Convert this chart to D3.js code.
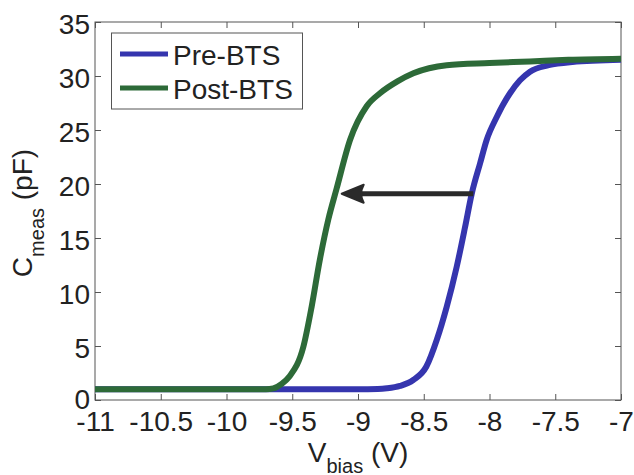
<!DOCTYPE html>
<html>
<head>
<meta charset="utf-8">
<script src="https://cdn.jsdelivr.net/npm/d3@7"></script>
<style>
  body { margin: 0; background: #fff; }
  svg { display: block; font-family: "Liberation Sans", Arial, sans-serif; }
</style>
</head>
<body>
<svg id="chart" width="634" height="475"></svg>
<script>
// ---- data ----
const preV  = [-11, -10, -9.0, -8.85, -8.78, -8.68, -8.58, -8.48, -8.40, -8.326, -8.25, -8.186, -8.135, -8.072, -8.021, -7.945, -7.844, -7.768, -7.692, -7.55, -7.37, -7];
const preC  = [1.0, 1.0, 1.0, 1.02, 1.08, 1.3, 1.85, 3.1, 5.6, 8.6, 12.3, 16.0, 19.1, 21.9, 24.1, 26.2, 28.4, 29.6, 30.4, 31.0, 31.3, 31.5];
const postV = [-11, -10.5, -9.7, -9.644, -9.58, -9.52, -9.416, -9.353, -9.29, -9.226, -9.162, -9.06, -8.934, -8.833, -8.70, -8.579, -8.326, -8.0, -7.692, -7.4, -7];
const postC = [1.0, 1.0, 1.0, 1.08, 1.5, 2.2, 4.9, 8.6, 13.0, 16.7, 19.6, 24.1, 27.2, 28.4, 29.5, 30.25, 31.0, 31.2, 31.35, 31.5, 31.6];
const xTicks = [-11, -10.5, -10, -9.5, -9, -8.5, -8, -7.5, -7];
const yTicks = [0, 5, 10, 15, 20, 25, 30, 35];
const seriesNames = ["Pre-BTS", "Post-BTS"];
const arrowFrom = [-8.123, 19.1];
const arrowTo = [-9.124, 19.1];

// ---- layout ----
const L = 95, R = 621, T = 22, B = 400;
const svg = d3.select("#chart");
const x = d3.scaleLinear().domain([-11, -7]).range([L, R]);
const y = d3.scaleLinear().domain([0, 35]).range([B, T]);
const frame = "#555";
const fontSize = 28;

// axes
const ax = svg.append("g").attr("transform", `translate(0,${B})`)
  .call(d3.axisBottom(x).tickValues(xTicks).tickSizeInner(-6).tickSizeOuter(0).tickPadding(12).tickFormat(d => String(d)));
const axTop = svg.append("g").attr("transform", `translate(0,${T})`)
  .call(d3.axisTop(x).tickValues(xTicks).tickSizeInner(-6).tickSizeOuter(0).tickFormat(""));
const ay = svg.append("g").attr("transform", `translate(${L},0)`)
  .call(d3.axisLeft(y).tickValues(yTicks).tickSizeInner(-6).tickSizeOuter(0).tickPadding(12));
const ayR = svg.append("g").attr("transform", `translate(${R},0)`)
  .call(d3.axisRight(y).tickValues(yTicks).tickSizeInner(-6).tickSizeOuter(0).tickFormat(""));
[ax, axTop, ay, ayR].forEach(g => {
  g.select(".domain").remove();
  g.selectAll(".tick line").attr("stroke", frame).attr("stroke-width", 1);
  g.selectAll("text").attr("font-size", fontSize).attr("fill", "#222")
    .attr("font-family", '"Liberation Sans", Arial, sans-serif');
});
ax.selectAll("text").attr("dy", "0.71em").attr("y", 11);
ay.selectAll("text").attr("dy", "0.42em").attr("x", -5);
ay.selectAll(".tick").filter(d => d === 0).select("text").attr("dy", "0.3em");

// frame
svg.append("rect").attr("x", L).attr("y", T).attr("width", R - L).attr("height", B - T)
  .attr("fill", "none").attr("stroke", frame).attr("stroke-width", 1);

// lines
const line = d3.line().x(d => x(d[0])).y(d => y(d[1])).curve(d3.curveMonotoneX);
const preData = preV.map((v, i) => [v, preC[i]]);
const postData = postV.map((v, i) => [v, postC[i]]);
const colors = ["#3535ae", "#2d6a38"];

svg.append("path").datum(preData).attr("d", line)
  .attr("fill", "none").attr("stroke", colors[0]).attr("stroke-width", 6).attr("stroke-linejoin", "round");
svg.append("path").datum(postData).attr("d", line)
  .attr("fill", "none").attr("stroke", colors[1]).attr("stroke-width", 6).attr("stroke-linejoin", "round");

// arrow
const ax0 = x(arrowFrom[0]), ax1 = x(arrowTo[0]), ayy = y(arrowFrom[1]);
svg.append("line").attr("x1", ax0).attr("y1", ayy).attr("x2", ax1 + 18).attr("y2", ayy)
  .attr("stroke", "#2a2a2a").attr("stroke-width", 5);
svg.append("path")
  .attr("d", `M${ax1},${ayy} L${ax1 + 22},${ayy - 9} Q${ax1 + 17},${ayy} ${ax1 + 22},${ayy + 9} Z`)
  .attr("fill", "#2a2a2a").attr("stroke", "#2a2a2a").attr("stroke-width", 2).attr("stroke-linejoin", "round");

// legend
const lg = svg.append("g");
lg.append("rect").attr("x", 111.5).attr("y", 33).attr("width", 191).attr("height", 76)
  .attr("fill", "#fff").attr("stroke", frame).attr("stroke-width", 1);
seriesNames.forEach((name, i) => {
  const yy = 54 + i * 34;
  lg.append("line").attr("x1", 120).attr("x2", 168).attr("y1", yy).attr("y2", yy)
    .attr("stroke", colors[i]).attr("stroke-width", 5);
  lg.append("text").attr("x", 173).attr("y", yy + 10.5).attr("font-size", fontSize)
    .attr("fill", "#222").text(name);
});

// x title
const xt = svg.append("text").attr("x", (L + R) / 2).attr("y", 461.5)
  .attr("text-anchor", "middle").attr("font-size", fontSize).attr("fill", "#222");
xt.append("tspan").text("V");
xt.append("tspan").attr("font-size", 20).attr("dy", 11).text("bias");
xt.append("tspan").attr("dy", -11).text(" (V)");

// y title
const yt = svg.append("text").attr("transform", `translate(32,213) rotate(-90)`)
  .attr("text-anchor", "middle").attr("font-size", fontSize).attr("fill", "#222");
yt.append("tspan").text("C");
yt.append("tspan").attr("font-size", 20).attr("dy", 12).text("meas");
yt.append("tspan").attr("dy", -12).text(" (pF)");
</script>
</body>
</html>
